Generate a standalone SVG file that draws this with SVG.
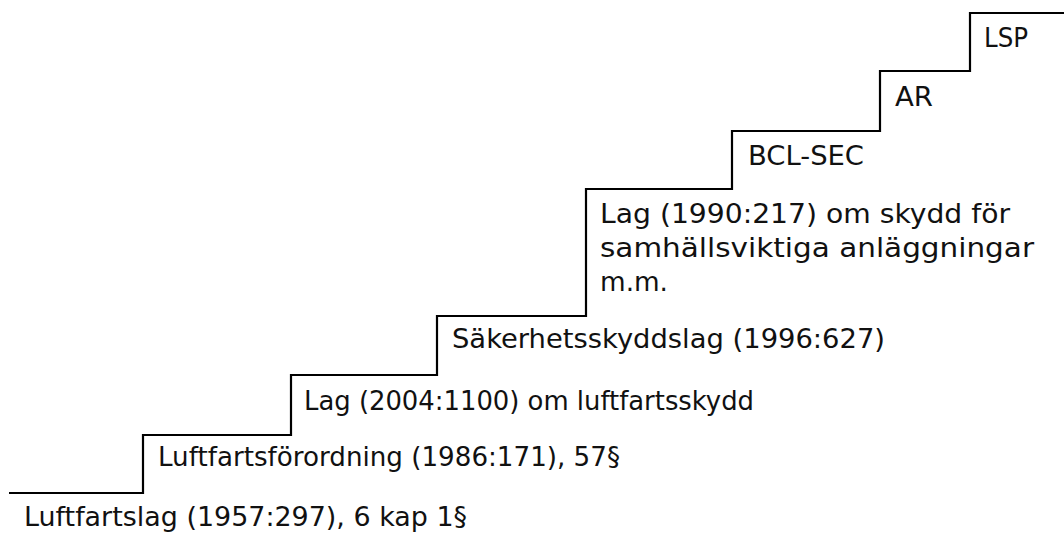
<svg xmlns="http://www.w3.org/2000/svg" width="1064" height="533" viewBox="0 0 1064 533">
<style>
.lbl{font-family:"DejaVu Sans","Liberation Sans",sans-serif;font-size:27px;fill:#111}
.stair{fill:none;stroke:#000;stroke-width:2.2}
</style>
<rect width="1064" height="533" fill="#fff"/>
<g id="connectors">
<path class="stair" d="M9,493 H143 V435 H291 V375 H437 V316 H586 V189 H732 V131 H880 V71 H970 V13 H1064"/>
</g>
<g id="n1"><text class="lbl" x="24" y="526" textLength="443" lengthAdjust="spacingAndGlyphs">Luftfartslag (1957:297), 6 kap 1§</text></g>
<g id="n2"><text class="lbl" x="158" y="466" textLength="462" lengthAdjust="spacingAndGlyphs">Luftfartsförordning (1986:171), 57§</text></g>
<g id="n3"><text class="lbl" x="304" y="410" textLength="450" lengthAdjust="spacingAndGlyphs">Lag (2004:1100) om luftfartsskydd</text></g>
<g id="n4"><text class="lbl" x="452" y="348" textLength="433" lengthAdjust="spacingAndGlyphs">Säkerhetsskyddslag (1996:627)</text></g>
<g id="n5"><text class="lbl" x="600" y="223" textLength="410" lengthAdjust="spacingAndGlyphs">Lag (1990:217) om skydd för</text><text class="lbl" x="600" y="257" textLength="434" lengthAdjust="spacingAndGlyphs">samhällsviktiga anläggningar</text><text class="lbl" x="600" y="291" textLength="68" lengthAdjust="spacingAndGlyphs">m.m.</text></g>
<g id="n6"><text class="lbl" x="748" y="165" textLength="116" lengthAdjust="spacingAndGlyphs">BCL-SEC</text></g>
<g id="n7"><text class="lbl" x="895" y="106" textLength="38" lengthAdjust="spacingAndGlyphs">AR</text></g>
<g id="n8"><text class="lbl" x="984" y="47" textLength="44" lengthAdjust="spacingAndGlyphs">LSP</text></g>
</svg>
